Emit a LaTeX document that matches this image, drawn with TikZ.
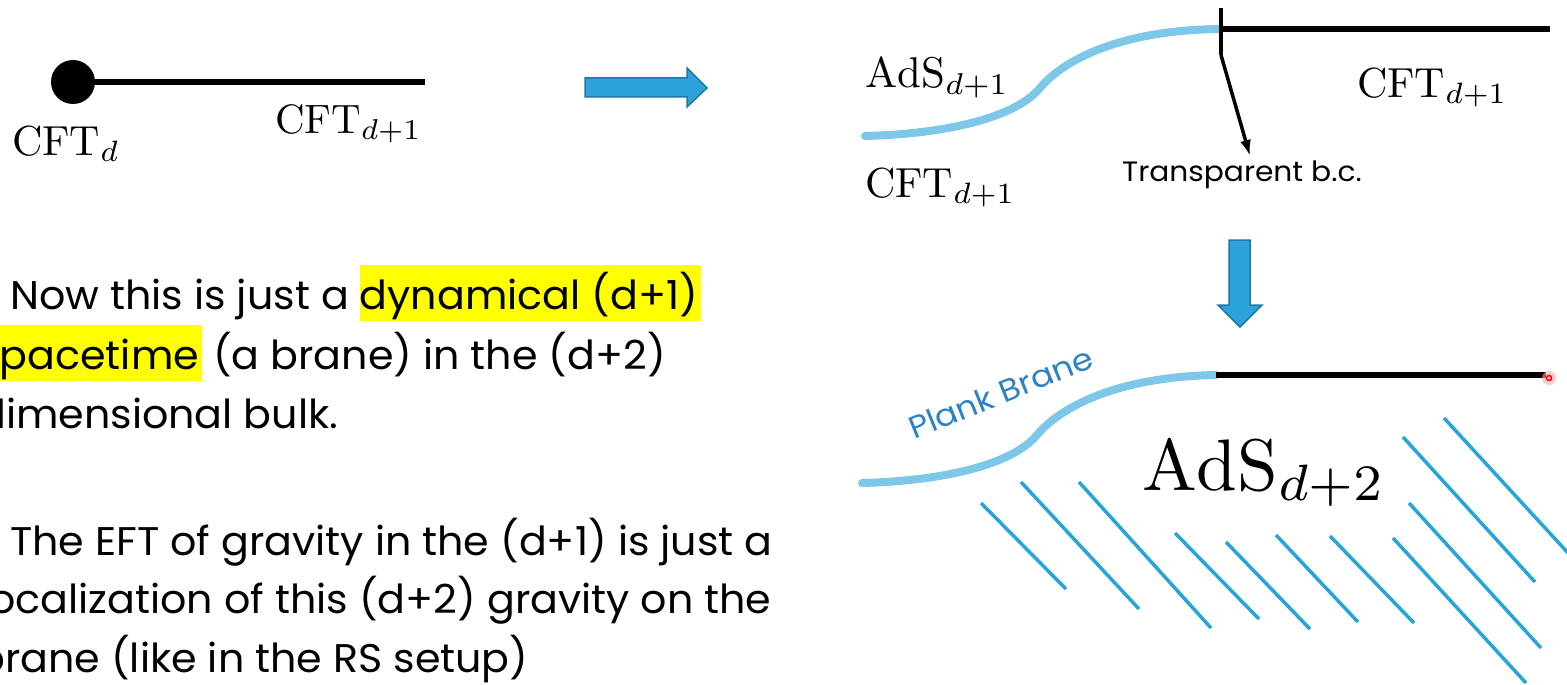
\documentclass[tikz,border=0pt]{standalone}
\usepackage{fontspec}
\usepackage{graphicx}
\newfontfamily\gothic{Poppins}
\usetikzlibrary{arrows.meta}
\definecolor{curveblue}{RGB}{125,200,232}
\definecolor{hatchblue}{RGB}{40,165,215}
\definecolor{arrowfill}{RGB}{43,163,216}
\definecolor{arrowedge}{RGB}{30,120,170}
\definecolor{braneblue}{RGB}{45,130,195}
\definecolor{hlyellow}{RGB}{255,255,0}
\newcommand\hlbox[1]{{\setlength{\fboxsep}{0pt}\colorbox{hlyellow}{\rule[-12pt]{0pt}{56pt}#1\hspace{3pt}}}}
\newcommand\bodyline[1]{\scalebox{1.03}[1]{\gothic\fontsize{40}{44}\selectfont #1}}
\begin{document}
\begin{tikzpicture}[x=1pt,y=-1pt,
  bodytext/.style={anchor=base west, inner sep=0pt},
  lbl/.style={anchor=base west, inner sep=0pt},
  brane/.style={draw=curveblue, line width=8pt, line cap=round},
  blackline/.style={draw=black, line width=6pt},
  hatch/.style={draw=hatchblue, line width=3.5pt},
  bigarrow/.style={fill=arrowfill, draw=arrowedge, line width=1.5pt, line join=miter}
]
\useasboundingbox (0,0) rectangle (1567,685);
\clip (0,0) rectangle (1567,685);

% ---------- top-left: CFT_d boundary ----------
\node[circle, fill=black, minimum size=44pt, inner sep=0pt] (dot) at (73,82) {};
\coordinate (lineend) at (425,82);
\draw[blackline] (dot.center) -- (lineend);
\node[lbl] (cftd) at (12,155) {\scalebox{4.2}{$\mathrm{CFT}_d$}};
\node[lbl] (cftdone) at (275,133) {\scalebox{4.1}{$\mathrm{CFT}_{d+1}$}};

% ---------- right arrow ----------
\draw[bigarrow] (585,78) -- (687,78) -- (687,68) -- (707,88) -- (687,107) -- (687,97) -- (585,97) -- cycle;

% ---------- top-right ----------
\coordinate (t0) at (865,136);
\coordinate (tm) at (1040,88);
\coordinate (t1) at (1221,29);
\coordinate (tr) at (1550,29);
\coordinate (tickTop) at (1221,8);
\coordinate (tickBot) at (1221,55);
\coordinate (tip) at (1250,156);
\draw[brane] (t0) .. controls (945,134) and (1015,118) .. (tm) .. controls (1058,66) and (1110,30) .. (t1);
\draw[blackline] (t1) -- (tr);
\draw[line width=4.5pt] (tickTop) -- (tickBot);
\draw[line width=3.5pt, -{Latex[length=16pt,width=11pt]}] (tickBot) -- (tip);
\node[lbl] (adsdone) at (865,88) {\scalebox{4.3}{$\mathrm{AdS}_{d+1}$}};
\node[lbl] (cftlow) at (865,197) {\scalebox{4.2}{$\mathrm{CFT}_{d+1}$}};
\node[lbl] (cftright) at (1357,97) {\scalebox{4.2}{$\mathrm{CFT}_{d+1}$}};
\node[lbl] (tbc) at (1122,181) {\scalebox{1.06}[1]{\gothic\fontsize{28}{32}\selectfont Transparent b.c.}};

% ---------- down arrow ----------
\draw[bigarrow] (1229,240) -- (1250,240) -- (1250,305) -- (1262,305) -- (1240,327) -- (1218,305) -- (1229,305) -- cycle;

% ---------- bottom-right ----------
\coordinate (b0) at (862,483);
\coordinate (bm) at (1037,435);
\coordinate (b1) at (1216,375);
\coordinate (br) at (1546,375);
\draw[brane] (b0) .. controls (942,481) and (1012,465) .. (bm) .. controls (1055,413) and (1107,377) .. (b1);
\draw[blackline] (b1) -- (br);
\fill[red!35, opacity=0.6] (1549,378) circle (7);
\draw[red, line width=1.5pt] (1549,378) circle (2.5);
\node[text=braneblue, anchor=base west, inner sep=0pt, rotate=22] (plank) at (914,440) {\scalebox{1.08}[1]{\gothic\fontsize{31}{34}\selectfont Plank Brane}};
\node[lbl] (adsdtwo) at (1142,490) {\scalebox{7.3}{$\mathrm{AdS}_{d+2}$}};

% hatch lines
\draw[hatch] (981,503) -- (1066,589);
\draw[hatch] (1021,482) -- (1139,609);
\draw[hatch] (1079,482) -- (1211,628);
\draw[hatch] (1175,533) -- (1259,619);
\draw[hatch] (1226,542) -- (1310,629);
\draw[hatch] (1276,535) -- (1358,622);
\draw[hatch] (1330,536) -- (1414,623);
\draw[hatch] (1393,538) -- (1526,683);
\draw[hatch] (1409,503) -- (1541,648);
\draw[hatch] (1403,437) -- (1535,582);
\draw[hatch] (1444,418) -- (1580,566);

% ---------- text ----------
\node[bodytext] (l1) at (10,309) {\bodyline{Now this is just a \hlbox{dynamical (d+1)}}};
\node[bodytext] (l2) at (-22,369) {\bodyline{\hlbox{spacetime} (a brane) in the (d+2)}};
\node[bodytext] (l3) at (-22,428) {\bodyline{dimensional bulk.}};
\node[bodytext] (l4) at (10,555) {\bodyline{The EFT of gravity in the (d+1) is just a}};
\node[bodytext] (l5) at (-21,613) {\bodyline{localization of this (d+2) gravity on the}};
\node[bodytext] (l6) at (-23,672) {\bodyline{brane (like in the RS setup)}};
\end{tikzpicture}
\end{document}
